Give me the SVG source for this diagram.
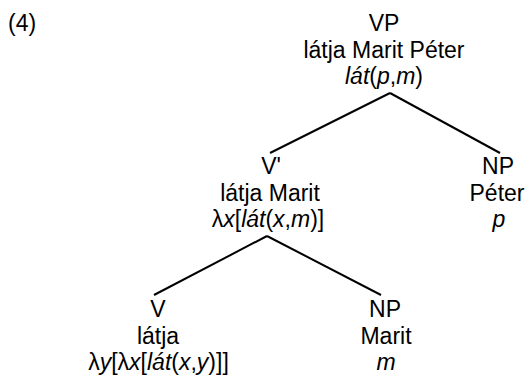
<svg xmlns="http://www.w3.org/2000/svg" width="527" height="381" viewBox="0 0 527 381">
<style>
text { font-family: "Liberation Sans", Arial, sans-serif; font-size: 23px; fill: #000; }
.c { text-anchor: middle; }
.i { font-style: italic; }
.edge { stroke: #000; stroke-width: 2; fill: none; stroke-linecap: butt; }
</style>
<rect width="527" height="381" fill="#fff"/>
<text id="example-number" x="8" y="31">(4)</text>
<g id="connectors">
  <line class="edge" x1="390" y1="93" x2="270" y2="153"/>
  <line class="edge" x1="390" y1="93" x2="500" y2="153"/>
  <line class="edge" x1="267" y1="236" x2="154" y2="295"/>
  <line class="edge" x1="267" y1="236" x2="381" y2="295"/>
</g>
<g id="node-VP">
  <text class="c" x="384" y="31">VP</text>
  <text class="c" x="384" y="57.5">látja Marit Péter</text>
  <text class="c" x="384" y="84"><tspan class="i">lát</tspan>(<tspan class="i">p</tspan>,<tspan class="i">m</tspan>)</text>
</g>
<g id="node-Vbar">
  <text class="c" x="271" y="174">V'</text>
  <text class="c" x="270" y="200.5">látja Marit</text>
  <text class="c" x="268" y="227">λ<tspan class="i">x</tspan>[<tspan class="i">lát</tspan>(<tspan class="i">x</tspan>,<tspan class="i">m</tspan>)]</text>
</g>
<g id="node-NP-Peter">
  <text class="c" x="498" y="174">NP</text>
  <text class="c" x="497" y="200.5">Péter</text>
  <text class="c i" x="499" y="227">p</text>
</g>
<g id="node-V">
  <text class="c" x="158" y="317">V</text>
  <text class="c" x="158" y="343.5">látja</text>
  <text class="c" x="158.5" y="370">λ<tspan class="i">y</tspan>[λ<tspan class="i">x</tspan>[<tspan class="i">lát</tspan>(<tspan class="i">x</tspan>,<tspan class="i">y</tspan>)]]</text>
</g>
<g id="node-NP-Marit">
  <text class="c" x="385" y="317">NP</text>
  <text class="c" x="386" y="343.5">Marit</text>
  <text class="c i" x="386" y="370">m</text>
</g>
</svg>
